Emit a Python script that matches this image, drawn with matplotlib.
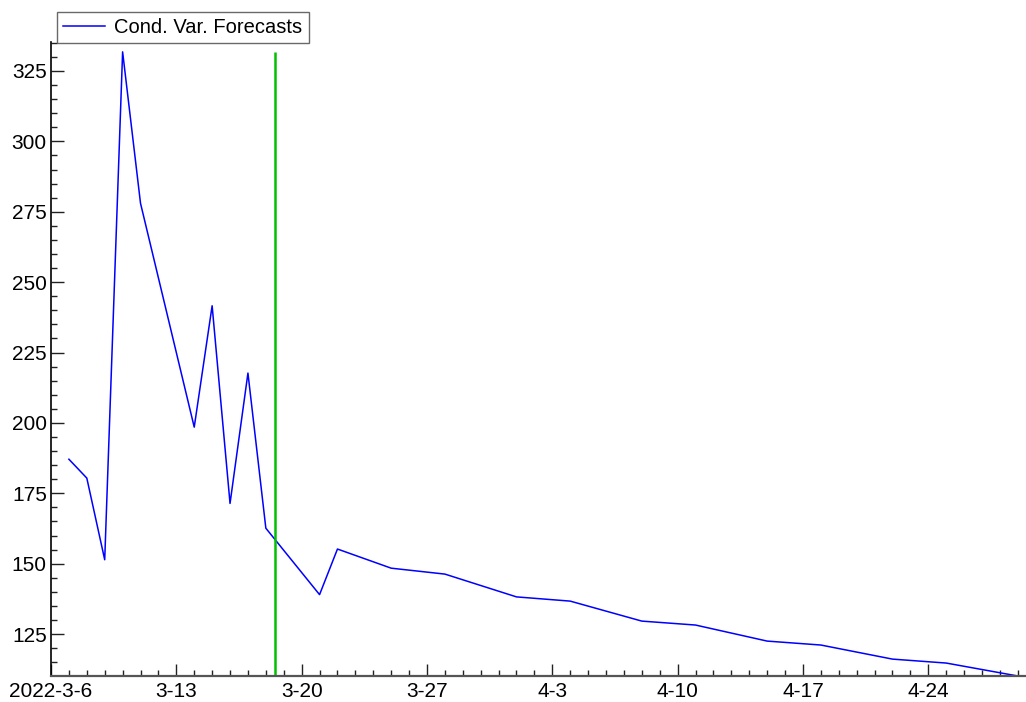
import matplotlib
matplotlib.use('Agg')
import matplotlib.pyplot as plt
import matplotlib.dates as mdates
from matplotlib.ticker import MultipleLocator
import pandas as pd

plt.rcParams['font.family'] = ['Liberation Sans', 'DejaVu Sans']

# conditional variance forecasts
dates = ['2022-03-07', '2022-03-08', '2022-03-09', '2022-03-10', '2022-03-11',
         '2022-03-14', '2022-03-15', '2022-03-16', '2022-03-17', '2022-03-18',
         '2022-03-21', '2022-03-22', '2022-03-25', '2022-03-28', '2022-04-01',
         '2022-04-04', '2022-04-08', '2022-04-11', '2022-04-15', '2022-04-18',
         '2022-04-22', '2022-04-25', '2022-04-29']
values = [187.1, 180.4, 151.4, 331.8, 278.0,
          198.5, 241.6, 171.4, 217.7, 162.6,
          139.0, 155.2, 148.4, 146.3, 138.2,
          136.7, 129.6, 128.2, 122.5, 121.1,
          116.1, 114.7, 110.1]
forecast_start = '2022-03-18 12:00'
tick_dates = ['2022-03-06', '2022-03-13', '2022-03-20', '2022-03-27',
              '2022-04-03', '2022-04-10', '2022-04-17', '2022-04-24']
tick_labels = ['2022-3-6', '3-13', '3-20', '3-27', '4-3', '4-10', '4-17', '4-24']

x = pd.to_datetime(dates)

fig = plt.figure(figsize=(10.26, 7.02), dpi=100)
ax = fig.add_axes([51/1026, 26/702, 975/1026, 634/702])

ax.plot(x, values, color='#0000ff', lw=1.1, label='Cond. Var. Forecasts')
ax.vlines(pd.Timestamp(forecast_start), 100, max(values), color='#00c000', lw=1.8)

ax.set_xlim(pd.Timestamp('2022-03-06'), pd.Timestamp('2022-04-29 11:00'))
ax.set_ylim(110.1, 335.3)

ax.set_xticks(pd.to_datetime(tick_dates))
ax.set_xticklabels(tick_labels)
ax.xaxis.set_minor_locator(mdates.DayLocator())
ax.yaxis.set_major_locator(MultipleLocator(25))
ax.yaxis.set_minor_locator(MultipleLocator(5))

for s in ['top', 'right']:
    ax.spines[s].set_visible(False)
ax.spines['left'].set_color('black')
ax.spines['left'].set_linewidth(1.2)
ax.spines['bottom'].set_color('#555555')
ax.spines['bottom'].set_linewidth(1.6)

ax.tick_params(which='major', direction='in', length=9, width=1, labelsize=15,
               colors='#222222', pad=3)
ax.tick_params(which='minor', direction='in', length=4.5, width=1, colors='#222222')
ax.tick_params(axis='x', which='major', pad=4)
for lbl in ax.get_xticklabels() + ax.get_yticklabels():
    lbl.set_color('black')

leg = ax.legend(loc='lower left', bbox_to_anchor=(6/975, 0.998), fontsize=14.5,
                frameon=True, fancybox=False, borderpad=0.3, handlelength=2.1,
                handletextpad=0.45, borderaxespad=0)
leg.get_frame().set_edgecolor('#444444')
leg.get_frame().set_linewidth(1.0)

fig.savefig('out.png', dpi=100)
plt.close(fig)
